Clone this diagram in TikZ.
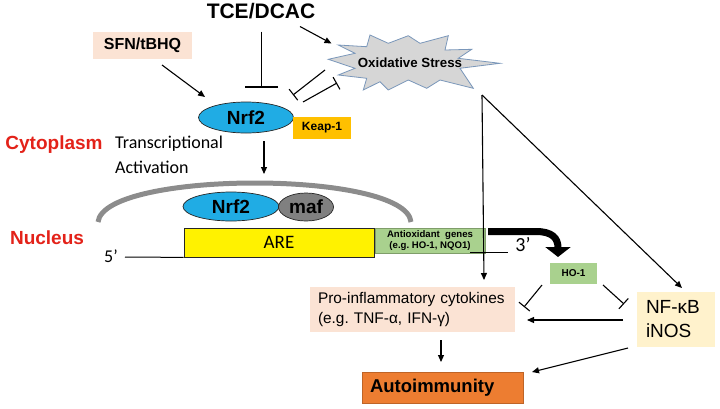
\documentclass[tikz,border=0pt]{standalone}
\usepackage{fontspec}
\setmainfont{Liberation Sans}
\newfontfamily\calibri{Carlito}
\usetikzlibrary{shapes.geometric,arrows.meta}
\definecolor{nrfblue}{RGB}{32,172,228}
\definecolor{peach}{RGB}{251,227,212}
\definecolor{keapc}{RGB}{255,192,0}
\definecolor{mafgray}{RGB}{128,128,128}
\definecolor{greenc}{RGB}{169,209,142}
\definecolor{nfyellow}{RGB}{255,242,204}
\definecolor{orangec}{RGB}{237,125,49}
\definecolor{redc}{RGB}{227,34,25}
\definecolor{arcgray}{RGB}{140,140,140}
\definecolor{starfill}{RGB}{214,214,214}
\definecolor{starline}{RGB}{122,151,186}
\frenchspacing
\begin{document}
\begin{tikzpicture}[x=1pt,y=-1pt]
\tikzset{
  arr/.style={line width=1.1pt, -{Triangle[length=7pt,width=6pt]}},
  inh/.style={line width=1.1pt, -{Bar[width=14pt]}},
  box/.style={rectangle, inner sep=0pt},
  oval/.style={ellipse, inner sep=0pt, draw=black!85, line width=0.7pt},
  lab/.style={inner sep=0pt},
}
\useasboundingbox (0,0) rectangle (720,408);

% nucleus envelope
\draw[line width=5pt, arcgray] (98,222) .. controls (104,170) and (406,170) .. (411,222);

% oxidative stress burst
\draw[fill=starfill, draw=starline, line width=0.8pt]
  (328.3,59.3) -- (355,53.3) -- (338.3,45) -- (366.7,46.7) -- (370,35) -- (388.3,43.3)
  -- (408.3,35.7) -- (420,43.3) -- (448.3,35.7) -- (445,50) -- (471.7,49.3) -- (458.3,58.3)
  -- (500,63.3) -- (460,68.3) -- (473.3,88.3) -- (440,80) -- (426.7,88.3) -- (408.3,80)
  -- (388.3,90) -- (380,81.7) -- (363.3,90) -- (366.7,78.3) -- (338.3,75) -- (355,68.3) -- cycle;
\node[lab, font=\fontsize{13.3}{16}\selectfont\bfseries] (os) at (410,63) {Oxidative Stress};

% nodes
\node[lab, font=\fontsize{21}{25}\selectfont\bfseries] (tce) at (261,11) {TCE/DCAC};
\node[box, fill=peach, minimum width=99pt, minimum height=27pt, font=\fontsize{16}{19}\selectfont\bfseries] (sfn) at (142.5,45.5) {SFN/tBHQ};
\node[oval, fill=nrfblue, minimum width=95pt, minimum height=31pt, font=\fontsize{19}{23}\selectfont\bfseries] (nrf) at (246,117.5) {Nrf2};
\node[box, fill=keapc, minimum width=58pt, minimum height=22pt, font=\fontsize{12}{14}\selectfont\bfseries] (keap) at (322,128) {Keap-1};
\node[lab, text=redc, font=\fontsize{19}{23}\selectfont\bfseries] (cyto) at (54,145) {Cytoplasm};
\node[lab, anchor=west, align=left, font=\calibri\fontsize{18}{25}\selectfont] (trans) at (115,154.5) {Transcriptional\\Activation};
\node[lab, text=redc, font=\fontsize{19}{23}\selectfont\bfseries] (nuc) at (47,238) {Nucleus};

\node[oval, fill=nrfblue, minimum width=96pt, minimum height=29pt, font=\fontsize{19}{23}\selectfont\bfseries] (nrfn) at (231,206.5) {Nrf2};
\node[oval, fill=mafgray, minimum width=55pt, minimum height=28pt, font=\fontsize{19}{23}\selectfont\bfseries] (maf) at (306,207) {maf};
\node[box, draw=black!85, line width=0.8pt, fill=yellow, minimum width=190pt, minimum height=29pt, font=\calibri\fontsize{19}{23}\selectfont] (are) at (279,242.5) {ARE};
\node[box, fill=greenc, draw=greenc!75!black, line width=0.4pt, minimum width=110pt, minimum height=25pt, align=center, font=\fontsize{9.6}{11}\selectfont\bfseries] (ant) at (430,240.5) {Antioxidant\ \ genes\\(e.g. HO-1, NQO1)};
\node[lab, font=\calibri\fontsize{18}{22}\selectfont] (five) at (111,256) {5’};
\node[lab, font=\calibri\fontsize{20}{24}\selectfont] (three) at (523,245) {3’};
\node[box, fill=greenc, minimum width=47pt, minimum height=21pt, font=\fontsize{10}{12}\selectfont\bfseries] (ho) at (573.5,273.5) {HO-1};
\node[box, fill=peach, minimum width=205pt, minimum height=45pt, text width=189pt, inner xsep=8pt, align=left, font=\fontsize{15.4}{20}\selectfont] (pro) at (412.5,309.5) {Pro-inflammatory cytokines\\(e.g. TNF-α, IFN-γ)};
\node[box, fill=nfyellow, minimum width=78pt, minimum height=55pt, text width=60pt, inner xsep=9pt, align=left, font=\fontsize{19}{24}\selectfont] (nfkb) at (676,319.5) {NF-κB\\iNOS};
\node[box, fill=orangec, draw=orangec!80!black, line width=0.6pt, minimum width=161pt, minimum height=31pt, text width=145pt, inner xsep=8pt, align=left, font=\fontsize{18.5}{22}\selectfont\bfseries] (auto) at (442.5,387.5) {Autoimmunity};

% connector end points
\coordinate (sfnA) at (162,65);   \coordinate (sfnB) at (205,97);
\coordinate (tceA) at (261.5,31.5); \coordinate (tceB) at (261.5,87.5);
\coordinate (tceC) at (300,26.5); \coordinate (tceD) at (331.5,43.5);
\coordinate (osA) at (325,70);    \coordinate (osB) at (293,95);
\coordinate (nrA) at (303,102);   \coordinate (nrB) at (337,83);
\coordinate (nrfA) at (264,141);  \coordinate (nrfB) at (264,174);
\coordinate (dnaL) at (125,257);
\coordinate (dnaR1) at (470,252.5); \coordinate (dnaR2) at (508,252.5);
\coordinate (bigA) at (488,231.5); \coordinate (bigB) at (536,231.5); \coordinate (bigC) at (558,257);
\coordinate (osO) at (482,95);
\coordinate (proT) at (484,280);  \coordinate (nfT) at (682,288);
\coordinate (hoL1) at (542,285);  \coordinate (hoL2) at (524,307);
\coordinate (hoR1) at (603,285);  \coordinate (hoR2) at (624,304);
\coordinate (nfA) at (623,320);   \coordinate (proR) at (527,320);
\coordinate (nfB) at (628,348);   \coordinate (autoR) at (532,372);
\coordinate (proB) at (441,340);  \coordinate (autoT) at (441,362);

% connectors
\draw[arr] (sfnA) -- (sfnB);
\draw[line width=1.1pt, -{Bar[width=33pt]}] (tceA) -- (tceB);
\draw[arr] (tceC) -- (tceD);
\draw[inh] (osA) -- (osB);
\draw[inh] (nrA) -- (nrB);
\draw[arr] (nrfA) -- (nrfB);
\draw[line width=1pt] (dnaL) -- (are.south west);
\draw[line width=1pt] (dnaR1) -- (dnaR2);
\draw[line width=7pt, -{Triangle[length=10pt,width=25pt]}] (bigA) -- (bigB) .. controls (552,231.5) and (558,238) .. (bigC);
\draw[arr] (osO) -- (proT);
\draw[arr] (osO) -- (nfT);
\draw[inh] (hoL1) -- (hoL2);
\draw[inh] (hoR1) -- (hoR2);
\draw[arr] (nfA) -- (proR);
\draw[arr] (nfB) -- (autoR);
\draw[arr] (proB) -- (autoT);
\end{tikzpicture}
\end{document}
